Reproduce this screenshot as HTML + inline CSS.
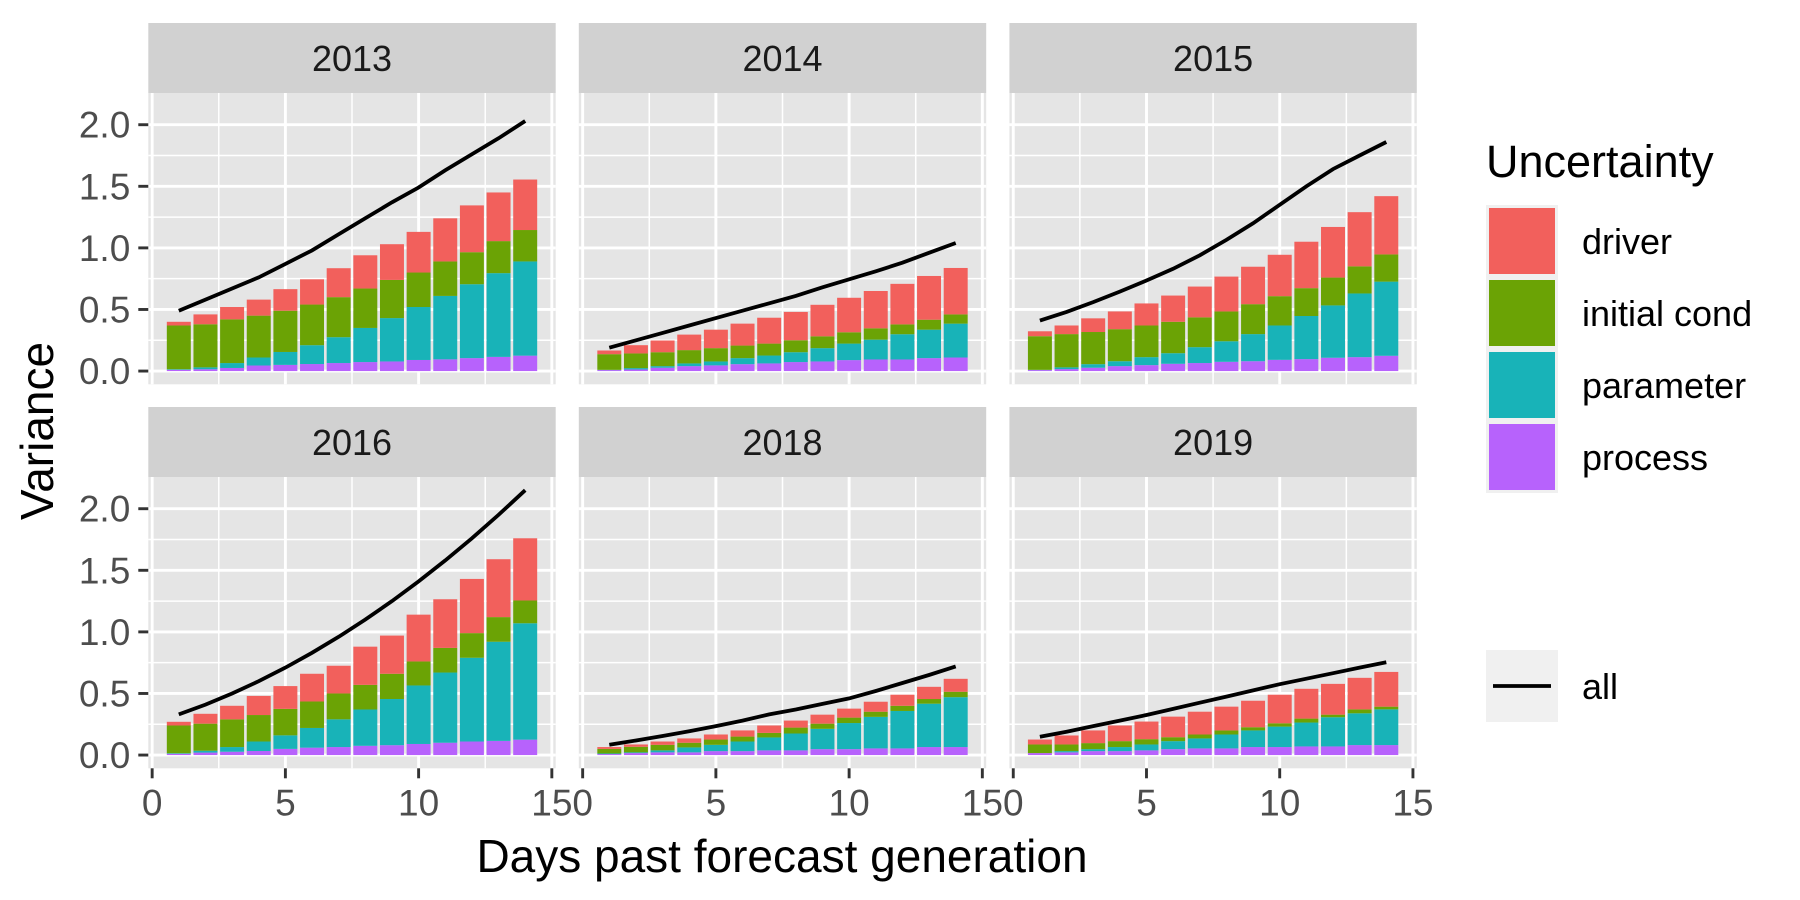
<!DOCTYPE html>
<html><head><meta charset="utf-8">
<style>
html,body{margin:0;padding:0;background:#fff;}
svg{display:block;font-family:"Liberation Sans",Arial,sans-serif;}
</style></head>
<body>
<svg id="chart" width="1800" height="900" viewBox="0 0 1800 900" xmlns="http://www.w3.org/2000/svg">
<g id="panels"></g>
<text x="0" y="0" transform="translate(53,431) rotate(-90)" text-anchor="middle" font-size="46" fill="#000">Variance</text>
<text x="782" y="872" text-anchor="middle" font-size="46" fill="#000">Days past forecast generation</text>
<g id="legend"></g>
</svg>
<script>
const years = ["2013","2014","2015","2016","2018","2019"];
const days = [1,2,3,4,5,6,7,8,9,10,11,12,13,14];
const components = ["process","parameter","initial cond","driver"];
const legendOrder = ["driver","initial cond","parameter","process"];
const xTicks = [0,5,10,15];
const yTicks = [0,0.5,1,1.5,2];
const yTickLabels = ["0.0","0.5","1.0","1.5","2.0"];

const process2013 = [.01,.015,.025,.045,.05,.057,.065,.073,.078,.09,.095,.105,.115,.125];
const parameter2013 = [.005,.015,.04,.065,.105,.153,.21,.277,.352,.43,.515,.6,.68,.765];
const initial2013 = [.355,.35,.355,.34,.335,.33,.325,.32,.31,.28,.28,.26,.26,.255];
const driver2013 = [.03,.08,.10,.13,.175,.205,.235,.27,.29,.33,.35,.38,.395,.41];
const all2013 = [.49,.58,.67,.76,.87,.98,1.11,1.24,1.37,1.49,1.63,1.76,1.89,2.03];

const process2014 = [.008,.013,.027,.04,.046,.056,.062,.073,.078,.089,.094,.094,.105,.11];
const parameter2014 = [.002,.011,.013,.022,.032,.049,.064,.08,.108,.134,.161,.205,.231,.275];
const initial2014 = [.127,.119,.113,.108,.108,.102,.097,.097,.096,.092,.092,.08,.081,.075];
const driver2014 = [.03,.067,.095,.126,.15,.178,.21,.23,.256,.28,.303,.329,.355,.377];
const all2014 = [.19,.25,.31,.37,.43,.49,.55,.61,.68,.745,.81,.88,.96,1.04];

const process2015 = [.008,.016,.027,.04,.048,.059,.065,.075,.08,.091,.097,.108,.113,.124];
const parameter2015 = [.002,.014,.029,.04,.065,.086,.129,.167,.22,.279,.35,.425,.517,.602];
const initial2015 = [.273,.27,.261,.26,.257,.255,.242,.242,.243,.238,.226,.226,.22,.221];
const driver2015 = [.04,.07,.111,.144,.179,.213,.25,.283,.304,.336,.377,.411,.44,.473];
const all2015 = [.41,.48,.56,.645,.735,.83,.94,1.065,1.2,1.35,1.5,1.64,1.75,1.86];

const process2016 = [.01,.02,.027,.033,.05,.06,.065,.075,.08,.09,.10,.11,.115,.125];
const parameter2016 = [.005,.015,.038,.077,.11,.16,.225,.295,.375,.475,.57,.68,.805,.945];
const initial2016 = [.225,.22,.225,.215,.215,.215,.21,.20,.205,.195,.20,.20,.20,.185];
const driver2016 = [.03,.08,.11,.155,.185,.225,.225,.31,.31,.38,.395,.44,.47,.505];
const all2016 = [.33,.41,.50,.60,.71,.83,.96,1.10,1.25,1.41,1.58,1.76,1.95,2.15];

const process2018 = [.008,.016,.022,.022,.032,.032,.038,.038,.048,.048,.054,.054,.065,.065];
const parameter2018 = [.005,.006,.016,.04,.051,.078,.105,.137,.165,.212,.256,.304,.352,.405];
const initial2018 = [.037,.045,.045,.038,.043,.04,.037,.048,.042,.044,.042,.042,.038,.044];
const driver2018 = [.015,.019,.027,.035,.041,.05,.06,.057,.073,.073,.081,.09,.099,.105];
const all2018 = [.083,.118,.155,.194,.235,.28,.33,.37,.415,.46,.52,.585,.65,.72];

const process2019 = [.016,.022,.032,.032,.038,.048,.054,.054,.065,.065,.07,.07,.081,.081];
const parameter2019 = [0,.01,.016,.033,.048,.065,.081,.113,.135,.166,.194,.237,.258,.29];
const initial2019 = [.07,.054,.049,.048,.043,.032,.032,.033,.026,.027,.032,.021,.032,.022];
const driver2019 = [.04,.073,.103,.127,.143,.167,.185,.193,.215,.232,.242,.25,.256,.282];
const all2019 = [.148,.19,.235,.28,.325,.375,.425,.475,.525,.575,.62,.665,.71,.753];

const panelData = [
  [process2013,parameter2013,initial2013,driver2013,all2013],
  [process2014,parameter2014,initial2014,driver2014,all2014],
  [process2015,parameter2015,initial2015,driver2015,all2015],
  [process2016,parameter2016,initial2016,driver2016,all2016],
  [process2018,parameter2018,initial2018,driver2018,all2018],
  [process2019,parameter2019,initial2019,driver2019,all2019]
];

const colors = {"process":"#B762FC","parameter":"#18B3B8","initial cond":"#6BA305","driver":"#F2605C"};
const NS = "http://www.w3.org/2000/svg";
function mk(tag, attrs, parent){
  const e = document.createElementNS(NS, tag);
  for (const k in attrs) e.setAttribute(k, attrs[k]);
  parent.appendChild(e);
  return e;
}
const XMIN=-0.145, XMAX=15.145, YMIN=-0.1075, YMAX=2.2575;
const PW=407.4;
const colLeft=[148.3,578.8,1009.4];
const rowTop=[93,477];
const PH=291.3;
const stripH=70;
const panelsG=document.getElementById('panels');

panelData.forEach((pd, idx)=>{
  const col=idx%3, row=Math.floor(idx/3);
  const L=colLeft[col], T=rowTop[row];
  const xs=v=>L+(v-XMIN)/(XMAX-XMIN)*PW;
  const ys=v=>T+PH-(v-YMIN)/(YMAX-YMIN)*PH;
  const g=mk('g',{},panelsG);
  
  
  const strip=mk('rect',{x:L,y:T-stripH,width:PW,height:stripH,fill:'#D1D1D1'},g);
  
  
  const st=mk('text',{x:L+PW/2,y:T-stripH/2+13,'text-anchor':'middle','font-size':36,fill:'#1A1A1A'},g);
  st.textContent=years[idx];
  
  
  const bg=mk('rect',{x:L,y:T,width:PW,height:PH,fill:'#E5E5E5'},g);
  
  
  [2.5,7.5,12.5].forEach(v=>{const l=mk('line',{x1:xs(v),x2:xs(v),y1:T,y2:T+PH,stroke:'#fff','stroke-width':1.5},g);
    });
  [0.25,0.75,1.25,1.75].forEach(v=>{const l=mk('line',{x1:L,x2:L+PW,y1:ys(v),y2:ys(v),stroke:'#fff','stroke-width':1.5},g);
    });
  xTicks.forEach(v=>{const l=mk('line',{x1:xs(v),x2:xs(v),y1:T,y2:T+PH,stroke:'#fff','stroke-width':2.9},g);
    });
  yTicks.forEach(v=>{const l=mk('line',{x1:L,x2:L+PW,y1:ys(v),y2:ys(v),stroke:'#fff','stroke-width':2.9},g);
    });
  days.forEach((d,i)=>{
    let base=0;
    components.forEach((c,ci)=>{
      const v=pd[ci][i];
      const r=mk('rect',{x:xs(d-0.45),width:xs(d+0.45)-xs(d-0.45),y:ys(base+v),height:Math.max(0,ys(base)-ys(base+v)),fill:colors[c]},g);
      
      
      base+=v;
    });
  });
  const pts=days.map((d,i)=>xs(d).toFixed(1)+','+ys(pd[4][i]).toFixed(1)).join(' ');
  const pl=mk('polyline',{points:pts,fill:'none',stroke:'#000','stroke-width':3.8},g);
  
  
  if(col===0){
    yTicks.forEach((v,i)=>{
      const t=mk('line',{x1:L-10,x2:L,y1:ys(v),y2:ys(v),stroke:'#333','stroke-width':2.9},g);
      
      const tx=mk('text',{x:L-18,y:ys(v)+13,'text-anchor':'end','font-size':37,fill:'#4D4D4D'},g);
      tx.textContent=yTickLabels[i];
      
    });
  }
  if(row===1){
    xTicks.forEach(v=>{
      const t=mk('line',{x1:xs(v),x2:xs(v),y1:T+PH,y2:T+PH+10,stroke:'#333','stroke-width':2.9},g);
      
      const tx=mk('text',{x:xs(v),y:T+PH+47,'text-anchor':'middle','font-size':37,fill:'#4D4D4D'},g);
      tx.textContent=String(v);
      
    });
  }
});

const lg=document.getElementById('legend');
const lt=mk('text',{x:1486,y:177,'font-size':45,fill:'#000'},lg);
lt.textContent='Uncertainty';


legendOrder.forEach((c,i)=>{
  const y=205+i*72;
  const kb=mk('rect',{x:1486,y:y,width:72,height:72,fill:'#F0F0F0'},lg);
  
  
  const k=mk('rect',{x:1489,y:y+3,width:66,height:66,fill:colors[c]},lg);
  
  
  const t=mk('text',{x:1582,y:y+49,'font-size':36,fill:'#000'},lg);
  t.textContent=c;
  
  
});
const ab=mk('rect',{x:1486,y:650,width:72,height:72,fill:'#F0F0F0'},lg);


const al=mk('line',{x1:1493,x2:1551,y1:686,y2:686,stroke:'#000','stroke-width':3.8},lg);


const at=mk('text',{x:1582,y:699,'font-size':36,fill:'#000'},lg);
at.textContent='all';


</script>
</body></html>
